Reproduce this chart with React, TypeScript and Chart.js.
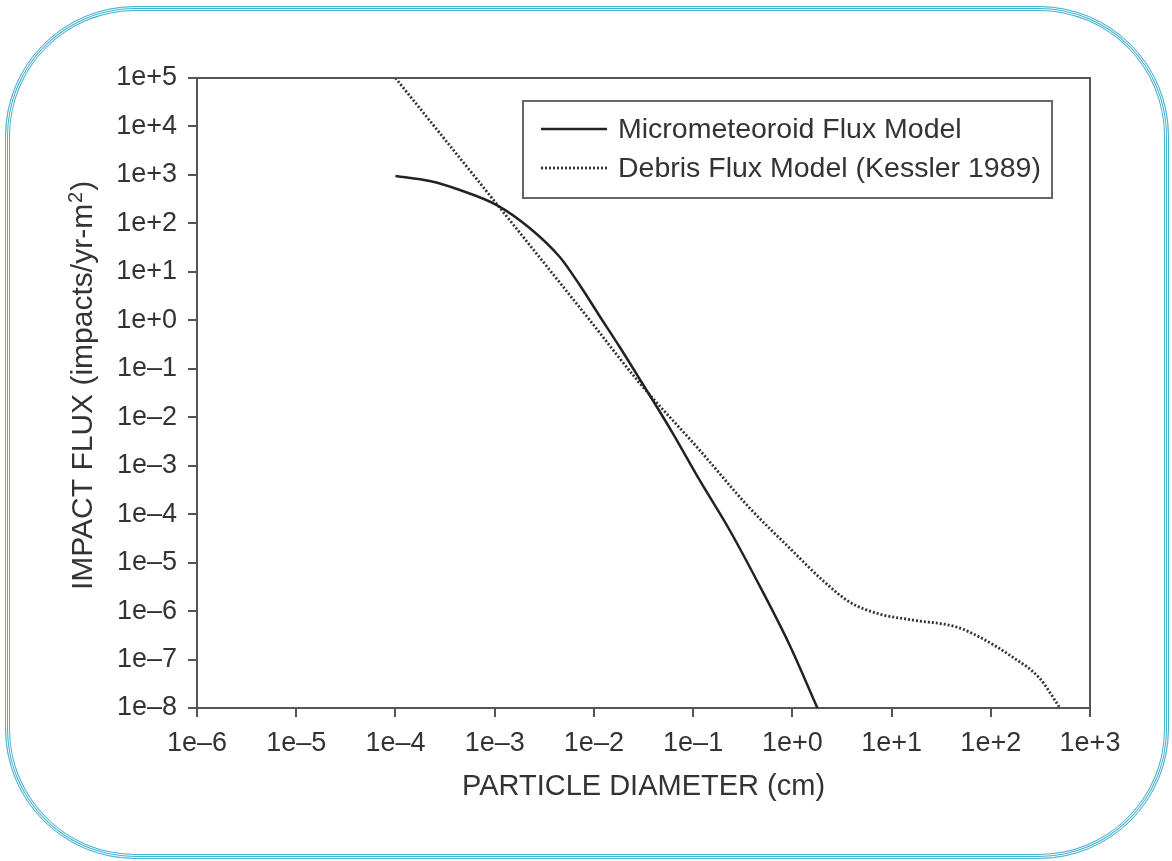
import React, { useEffect, useRef } from "react";
import { Chart, registerables } from "chart.js";

Chart.register(...registerables);

const xTickValues = [1e-6, 1e-5, 1e-4, 1e-3, 1e-2, 1e-1, 1e0, 1e1, 1e2, 1e3];
const xTickLabels = ["1e–6", "1e–5", "1e–4", "1e–3", "1e–2", "1e–1", "1e+0", "1e+1", "1e+2", "1e+3"];
const yTickValues = [1e5, 1e4, 1e3, 1e2, 1e1, 1e0, 1e-1, 1e-2, 1e-3, 1e-4, 1e-5, 1e-6, 1e-7, 1e-8];
const yTickLabels = ["1e+5", "1e+4", "1e+3", "1e+2", "1e+1", "1e+0", "1e–1", "1e–2", "1e–3", "1e–4", "1e–5", "1e–6", "1e–7", "1e–8"];

const microDiameter = [1.0e-4, 2.22e-4, 4.46e-4, 1.05e-3, 2.25e-3, 4.53e-3, 7.19e-3, 1.14e-2, 1.82e-2, 2.89e-2, 6.22e-2, 0.116, 0.233, 0.436, 0.938, 1.79];
const microFlux = [950, 750, 489, 239, 80.4, 20.2, 5.35, 1.23, 0.281, 0.0615, 4.72e-3, 5.07e-4, 4.71e-5, 4.38e-6, 2.0e-7, 1.0e-8];

const debrisDiameter = [1e-4, 1.05e-3, 9.08e-3, 2.89e-2, 0.116, 0.371, 0.938, 2.11, 3.77, 7.55, 16.3, 45.1, 76.8, 165, 309, 491];
const debrisFlux = [1e5, 251, 1.01, 0.0508, 2.11e-3, 1.34e-4, 2.0e-5, 3.98e-6, 1.54e-6, 8.69e-7, 6.54e-7, 4.69e-7, 2.92e-7, 1.13e-7, 4.16e-8, 1.05e-8];

const seriesNames = ["Micrometeoroid Flux Model", "Debris Flux Model (Kessler 1989)"];
const xTitle = "PARTICLE DIAMETER (cm)";
const yTitleMain = "IMPACT FLUX (impacts/yr-m";
const yTitleSup = "2";
const yTitleEnd = ")";

const FONT = "'Liberation Sans', Arial, Helvetica, sans-serif";
const TEXT = "#333333";
const AXIS = "#555555";

const boxAndLegend = {
  id: "boxAndLegend",
  afterDraw(chart: any) {
    const { ctx, chartArea } = chart;
    ctx.save();
    // top and right frame
    ctx.strokeStyle = AXIS;
    ctx.lineWidth = 2;
    ctx.beginPath();
    ctx.moveTo(chartArea.left, chartArea.top);
    ctx.lineTo(chartArea.right, chartArea.top);
    ctx.lineTo(chartArea.right, chartArea.bottom);
    ctx.stroke();

    // y axis title with superscript
    ctx.save();
    ctx.translate(83, chartArea.bottom - 118);
    ctx.rotate(-Math.PI / 2);
    ctx.fillStyle = TEXT;
    ctx.textBaseline = "middle";
    ctx.textAlign = "left";
    ctx.font = `30px ${FONT}`;
    ctx.fillText(yTitleMain, 0, 1);
    let w = ctx.measureText(yTitleMain).width;
    ctx.font = `20px ${FONT}`;
    ctx.fillText(yTitleSup, w + 1, -7);
    w += ctx.measureText(yTitleSup).width + 2;
    ctx.font = `30px ${FONT}`;
    ctx.fillText(yTitleEnd, w, 1);
    ctx.restore();

    // legend box
    const lx = chartArea.left + 326;
    const ly = chartArea.top + 23;
    const lw = 529;
    const lh = 97;
    ctx.strokeStyle = "#666666";
    ctx.lineWidth = 2;
    ctx.strokeRect(lx, ly, lw, lh);
    ctx.font = `28.5px ${FONT}`;
    ctx.textBaseline = "middle";
    ctx.textAlign = "left";
    chart.data.datasets.forEach((ds: any, i: number) => {
      const y = ly + 28 + i * 39;
      ctx.strokeStyle = ds.borderColor;
      ctx.lineWidth = ds.borderWidth;
      ctx.setLineDash(ds.borderDash || []);
      ctx.beginPath();
      ctx.moveTo(lx + 18, y);
      ctx.lineTo(lx + 84, y);
      ctx.stroke();
      ctx.setLineDash([]);
      ctx.fillStyle = TEXT;
      ctx.fillText(ds.label, lx + 95, y + 1);
    });
    ctx.restore();
  },
};

export default function App() {
  const canvasRef = useRef<HTMLCanvasElement | null>(null);

  useEffect(() => {
    if (!canvasRef.current) return;
    const chart = new Chart(canvasRef.current, {
      type: "line",
      data: {
        datasets: [
          {
            label: seriesNames[0],
            data: microDiameter.map((x, i) => ({ x, y: microFlux[i] })),
            borderColor: "#222222",
            borderWidth: 2.5,
            pointRadius: 0,
            cubicInterpolationMode: "monotone",
            fill: false,
          },
          {
            label: seriesNames[1],
            data: debrisDiameter.map((x, i) => ({ x, y: debrisFlux[i] })),
            borderColor: "#333333",
            borderWidth: 2.8,
            borderDash: [2, 2],
            pointRadius: 0,
            cubicInterpolationMode: "monotone",
            fill: false,
          },
        ],
      },
      options: {
        animation: false,
        responsive: false,
        maintainAspectRatio: false,
        devicePixelRatio: 1,
        layout: { padding: { left: 0, right: 82, top: 78, bottom: 0 } },
        plugins: { legend: { display: false }, tooltip: { enabled: false } },
        scales: {
          x: {
            type: "logarithmic",
            min: 1e-6,
            max: 1e3,
            afterBuildTicks: (scale: any) => {
              scale.ticks = xTickValues.map((v) => ({ value: v }));
            },
            afterFit: (scale: any) => {
              scale.height = 153;
            },
            ticks: {
              autoSkip: false,
              maxRotation: 0,
              padding: 10,
              color: TEXT,
              font: { family: FONT, size: 27 },
              callback: (_v: any, i: number) => xTickLabels[i],
            },
            grid: { display: true, drawOnChartArea: false, drawTicks: true, tickLength: 9, color: AXIS, lineWidth: 2 },
            border: { display: true, color: AXIS, width: 2 },
            title: { display: true, text: xTitle, color: TEXT, font: { family: FONT, size: 29 }, padding: { top: 0, bottom: 57 } },
          },
          y: {
            type: "logarithmic",
            min: 1e-8,
            max: 1e5,
            afterBuildTicks: (scale: any) => {
              scale.ticks = yTickValues.map((v) => ({ value: v }));
            },
            afterFit: (scale: any) => {
              scale.width = 197;
            },
            ticks: {
              autoSkip: false,
              padding: 11,
              color: TEXT,
              font: { family: FONT, size: 27 },
              callback: (_v: any, i: number) => yTickLabels[i],
            },
            grid: { display: true, drawOnChartArea: false, drawTicks: true, tickLength: 9, color: AXIS, lineWidth: 2 },
            border: { display: true, color: AXIS, width: 2 },
            title: { display: false },
          },
        },
      },
      plugins: [boxAndLegend],
    } as any);
    return () => chart.destroy();
  }, []);

  return (
    <div style={{ position: "absolute", left: 0, top: 0, width: 1172, height: 861, background: "#ffffff", overflow: "hidden" }}>
      <div
        style={{
          position: "absolute",
          left: 5,
          top: 6,
          width: 1164,
          height: 853,
          boxSizing: "border-box",
          borderRadius: 130,
          border: "1px solid #45afce",
          boxShadow: "inset 0 0 0 1px #ffffff, inset 0 0 0 2px #45afce, inset 0 0 0 3px #ffffff, inset 0 0 0 4px #45afce",
        }}
      />
      <canvas ref={canvasRef} width={1172} height={861} style={{ position: "absolute", left: 0, top: 0, width: 1172, height: 861 }} />
    </div>
  );
}
